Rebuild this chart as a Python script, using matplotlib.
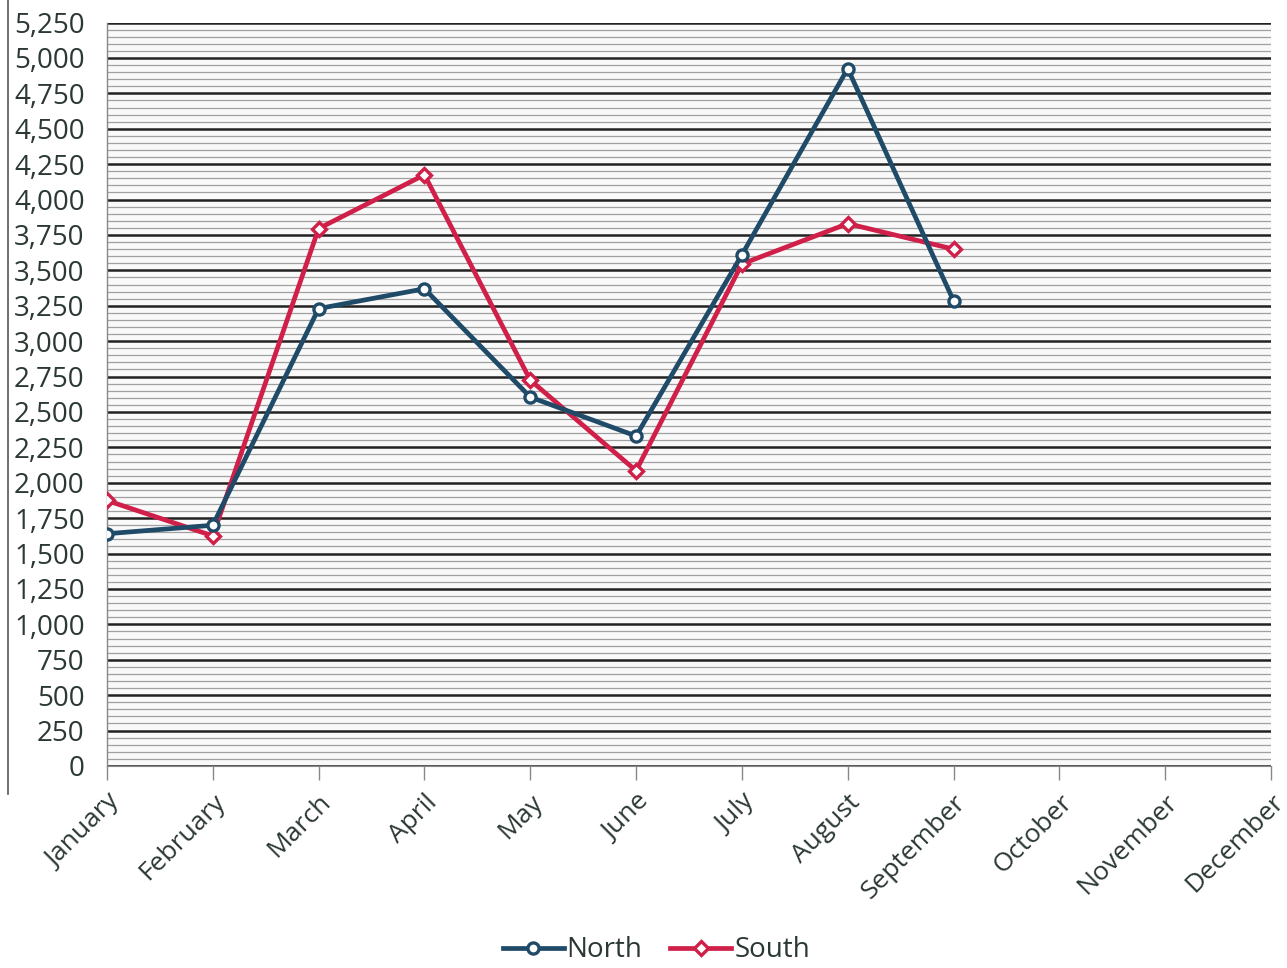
import matplotlib.pyplot as plt
from matplotlib.ticker import MultipleLocator, FuncFormatter

months = ["January", "February", "March", "April", "May", "June", "July",
          "August", "September", "October", "November", "December"]
north = [1640, 1700, 3230, 3370, 2605, 2330, 3610, 4925, 3285]
south = [1875, 1625, 3795, 4175, 2725, 2085, 3545, 3830, 3650]

text_col = "#2b3833"
north_col = "#1f4a68"
south_col = "#d01f48"

plt.rcParams['font.family'] = ['Open Sans', 'DejaVu Sans']

fig = plt.figure(figsize=(12.87, 9.68), dpi=100)
ax = fig.add_axes([0.0831, 0.2087, 0.9045, 0.768])
ax.set_facecolor("#f9f9f9")

x = list(range(len(months)))
ax.plot(x[:len(north)], north, color=north_col, lw=3.4, marker='o', ms=8,
        mfc='white', mec=north_col, mew=2.4, label="North", zorder=5)
ax.plot(x[:len(south)], south, color=south_col, lw=3.4, marker='D', ms=7,
        mfc='white', mec=south_col, mew=2.4, label="South", zorder=4)

ax.set_xlim(0, len(months) - 1)
ax.set_ylim(0, 5250)
ax.yaxis.set_major_locator(MultipleLocator(250))
ax.yaxis.set_minor_locator(MultipleLocator(50))
ax.yaxis.set_major_formatter(FuncFormatter(lambda v, p: f"{int(v):,}"))
ax.grid(axis='y', which='major', color='#222222', lw=1.8)
ax.grid(axis='y', which='minor', color='#a0a0a0', lw=0.9)
ax.set_axisbelow(True)

ax.set_xticks(x)
ax.set_xticklabels(months, rotation=45, ha='right', rotation_mode='anchor')
ax.tick_params(axis='x', length=10, width=1, color='#888888', labelsize=19,
               labelcolor=text_col, pad=7)
ax.tick_params(axis='y', which='both', length=0, labelsize=20,
               labelcolor=text_col, pad=16)

for s in ['top', 'right']:
    ax.spines[s].set_visible(False)
ax.spines['left'].set_color('#888888')
ax.spines['bottom'].set_color('#888888')
ax.spines['left'].set_linewidth(1)

# thin border line at far left
fig.add_artist(plt.Line2D([0.006, 0.006], [0.18, 1.0], color='#555555', lw=1.2))

fig.legend(loc='lower center', bbox_to_anchor=(0.51, -0.022), ncol=2, frameon=False,
           fontsize=20, labelcolor=text_col, handlelength=2.2, handletextpad=0.1,
           columnspacing=1.0)

fig.savefig("out.png", dpi=100)
